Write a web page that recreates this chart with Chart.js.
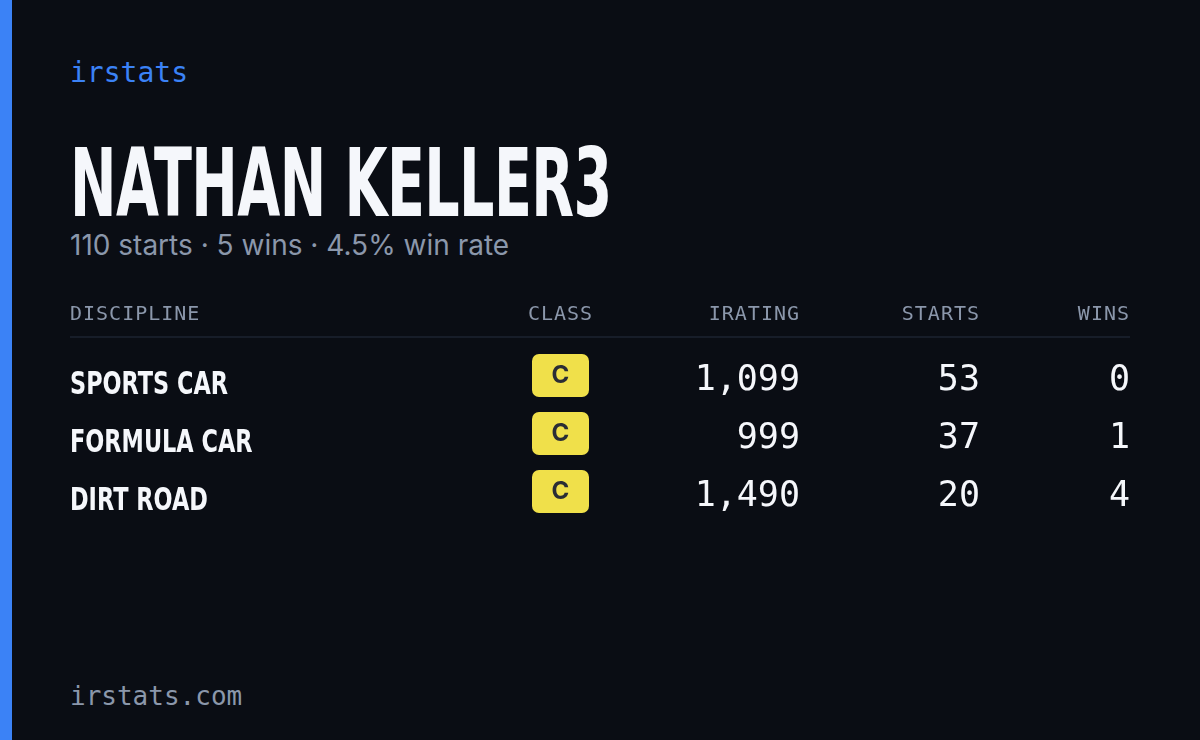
<!DOCTYPE html>
<html><head><meta charset="utf-8">
<script src="https://cdn.jsdelivr.net/npm/chart.js@4"></script>
<style>
body{margin:0;width:1200px;height:740px;background:#0a0d14;overflow:hidden;position:relative;font-family:"Inter","Noto Sans",sans-serif}
#bar{position:absolute;left:0;top:0;width:12px;height:740px;background:#3b82f6}
.t{position:absolute;left:70px;white-space:nowrap}
#brand{top:56px;font:28px "DejaVu Sans Mono",monospace;color:#3b82f6}
#name{top:128px;font:bold 95px "DejaVu Sans",sans-serif;color:#f5f7fb;letter-spacing:-1px;transform:scaleX(0.585);transform-origin:left top}
#sub{top:228px;font:28px "Inter",sans-serif;color:#8b97ab}
#foot{top:681px;font:26px "DejaVu Sans Mono",monospace;color:#8b97ab}
#wrap{position:absolute;left:0;top:290px;width:1200px;height:250px}
</style></head><body>
<div id="bar"></div>
<div class="t" id="brand">irstats</div>
<div class="t" id="name">NATHAN KELLER3</div>
<div class="t" id="sub">110 starts · 5 wins · 4.5% win rate</div>
<div class="t" id="foot">irstats.com</div>
<div id="wrap"><canvas id="c"></canvas></div>
<script>
const columns = ['CLASS', 'IRATING', 'STARTS', 'WINS'];
const disciplines = ['SPORTS CAR', 'FORMULA CAR', 'DIRT ROAD'];
const classes = ['C', 'C', 'C'];
const iratings = ['1,099', '999', '1,490'];
const starts = ['53', '37', '20'];
const wins = ['0', '1', '4'];

// small per-column nudges so right edges line up with the reference layout
const colShift = [8, 0, 15, 0];

const tablePlugin = {
  id: 'table',
  afterDraw(chart) {
    const ctx = chart.ctx, xs = chart.scales.x, ys = chart.scales.y, a = chart.chartArea;
    const band = (a.right - a.left) / columns.length;
    const mono = '"DejaVu Sans Mono", monospace';
    const colX = i => xs.getPixelForValue(i) + (i === 0 ? colShift[0] : band / 2 + colShift[i]);
    ctx.save();
    const hy = a.top - 36;
    ctx.font = '500 20px ' + mono; ctx.fillStyle = '#8b97ab'; ctx.textBaseline = 'middle';
    ctx.letterSpacing = '1px';
    ctx.textAlign = 'left'; ctx.fillText('DISCIPLINE', 70, hy);
    columns.forEach((c, i) => {
      ctx.textAlign = i === 0 ? 'center' : 'right';
      ctx.fillText(c, colX(i), hy);
    });
    ctx.letterSpacing = '0px';
    ctx.strokeStyle = '#1d2330'; ctx.lineWidth = 1.5;
    ctx.beginPath(); ctx.moveTo(70, a.top - 14); ctx.lineTo(1130, a.top - 14); ctx.stroke();
    disciplines.forEach((d, r) => {
      const y = ys.getPixelForValue(r);
      ctx.save();
      ctx.translate(70, y + 6); ctx.scale(0.7, 1);
      ctx.fillStyle = '#f5f7fb'; ctx.textAlign = 'left';
      ctx.font = 'bold 32px "DejaVu Sans", sans-serif';
      ctx.fillText(d, 0, 0);
      ctx.restore();
      const cx = colX(0);
      ctx.fillStyle = '#f0e04a';
      ctx.beginPath(); ctx.roundRect(cx - 28.5, y - 26, 57, 43, 7); ctx.fill();
      ctx.fillStyle = '#2a2d35'; ctx.textAlign = 'center';
      ctx.font = 'bold 24px "Inter", sans-serif'; ctx.fillText(classes[r], cx, y - 4);
      ctx.fillStyle = '#f5f7fb'; ctx.textAlign = 'right'; ctx.font = '35px ' + mono;
      [iratings, starts, wins].forEach((arr, k) => {
        ctx.fillText(arr[r], colX(k + 1), y + 1);
      });
    });
    ctx.restore();
  }
};

new Chart(document.getElementById('c'), {
  type: 'scatter',
  data: { datasets: [] },
  options: {
    responsive: true, maintainAspectRatio: false, animation: false,
    layout: { padding: { left: 470, right: 70, top: 61, bottom: 15 } },
    plugins: { legend: { display: false }, tooltip: { enabled: false } },
    scales: {
      x: { type: 'category', labels: columns, offset: true, display: false },
      y: { type: 'category', labels: disciplines, offset: true, display: false }
    }
  },
  plugins: [tablePlugin]
});
</script>
</body></html>
